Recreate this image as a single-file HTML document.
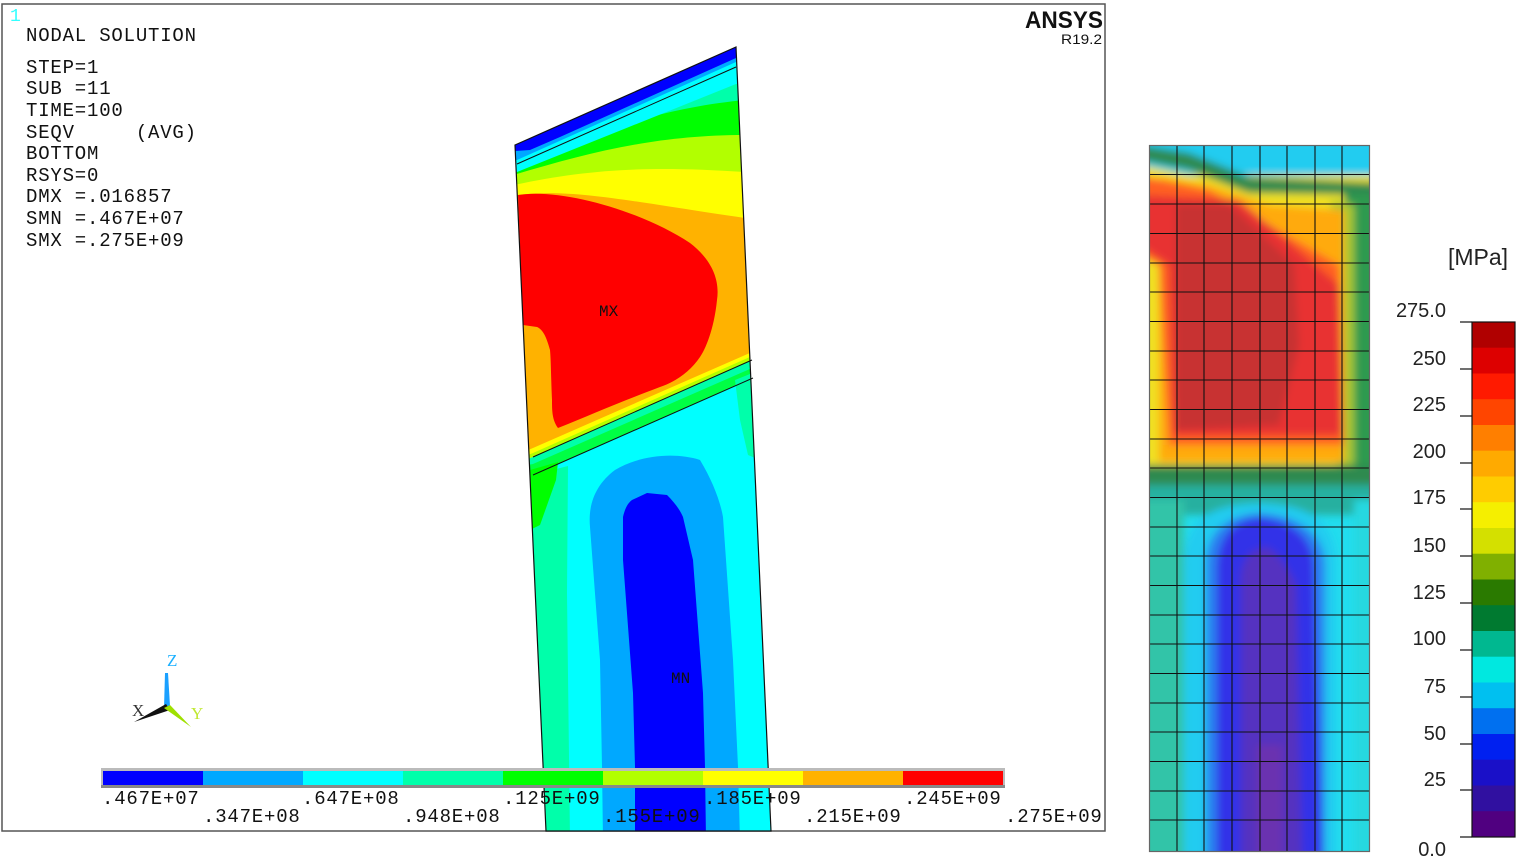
<!DOCTYPE html>
<html><head><meta charset="utf-8"><style>
html,body{margin:0;padding:0;background:#fff;}
svg{display:block}
.m{font-family:"Liberation Mono",monospace;font-size:19px;letter-spacing:0.8px;fill:#111;white-space:pre}
.a{font-family:"Liberation Sans",Arial,sans-serif;font-size:20px;fill:#222}
</style></head><body>
<svg width="1516" height="862" viewBox="0 0 1516 862" xmlns="http://www.w3.org/2000/svg">
<defs>
<clipPath id="plate"><polygon points="515,145 736,47 771,831 546,831"/></clipPath>
<clipPath id="rp"><rect x="1149" y="145" width="221" height="707"/></clipPath>
<filter id="bl" x="-10%" y="-10%" width="120%" height="120%"><feGaussianBlur stdDeviation="4"/></filter>
</defs>
<rect x="2" y="4" width="1103" height="827" fill="#fff" stroke="#555" stroke-width="1.5"/>

<g clip-path="url(#plate)">
<rect x="500" y="40" width="300" height="800" fill="#00ffff"/>
<polygon points="500,30 800,30 800,354 500,460" fill="#ffb200"/>
<path d="M500,0 L800,0 L800,219 L745,218 C620,200 560,185 500,198 Z" fill="#ffff00"/>
<path d="M500,0 L800,0 L800,172 L745,172 C640,165 580,170 500,188 Z" fill="#b2ff00"/>
<path d="M500,0 L800,0 L800,135 L745,135 C650,135 580,155 500,179 Z" fill="#00ff00"/>
<path d="M500,0 L800,0 L800,100 L745,100 C640,110 570,145 500,169 Z" fill="#00ffaa"/>
<path d="M500,0 L800,0 L800,84 L736,84 L517,172 L500,175 Z" fill="#00ffff"/>
<path d="M500,0 L800,0 L800,63 L736,62 L517,160 L500,162 Z" fill="#00a8ff"/>
<path d="M500,0 L800,0 L800,58 L736,58 L560,137 L530,150 L500,152 Z" fill="#0000ff"/>
<line x1="517" y1="164" x2="736" y2="67" stroke="#111" stroke-width="1"/>
<path d="M518,195 C560,188 640,210 690,243 C712,260 720,280 717,300 C714,330 705,350 700,357 C690,372 675,382 660,387 C620,402 590,415 558,428 C552,420 552,410 552,400 C551,380 551,360 550,350 C546,335 542,329 537,327 L523,325 Z" fill="#ff0000"/>
<polygon points="500,462 533,448 752,352 800,340 800,362 752,360 533,457 500,470" fill="#ffff00"/>
<polygon points="500,466 533,453 752,356 800,350 800,362 752,360 533,457 500,470" fill="#b2ff00"/>
<polygon points="500,470 533,457 752,360 800,350 800,380 753,378 533,475 500,490" fill="#00ffaa"/>
<polygon points="500,470 533,464 752,368 800,360 800,380 753,378 533,475 500,490" fill="#00ff00" opacity="0.6"/>
<path d="M500,470 L533,475 L568,466 L567,593 L570,840 L500,840 Z" fill="#00ffaa"/>
<path d="M530,470 L558,462 L556,480 L540,525 L530,530 Z" fill="#00ff00"/>
<path d="M735,380 L760,370 L760,460 L748,455 L740,420 Z" fill="#00ffaa"/>
<path d="M603,840 L602,767 L600,660 L590,527 C588,505 595,485 615,470 C640,455 675,452 700,460 C712,480 720,500 723,517 L733,660 L738,767 L740,840 Z" fill="#00a8ff"/>
<path d="M635,840 L635,767 L633,693 L623,560 L623,517 C625,508 628,503 632,500 L647,493 L667,495 C675,503 680,510 683,517 L693,560 L703,693 L705,767 L706,840 Z" fill="#0000ff"/>
</g>
<polygon points="515,145 736,47 771,831 546,831" fill="none" stroke="#111" stroke-width="1.2"/>
<line x1="533" y1="457" x2="752" y2="360" stroke="#111" stroke-width="1"/>
<line x1="533" y1="475" x2="753" y2="378" stroke="#111" stroke-width="1"/>
<text x="599" y="316" class="m" style="font-size:16px;letter-spacing:0">MX</text>
<text x="671" y="683" class="m" style="font-size:16px;letter-spacing:0">MN</text>

<rect x="101" y="768" width="904" height="20" fill="#bbb"/>
<rect x="103" y="771" width="100" height="14" fill="#0000ff"/>
<rect x="203" y="771" width="100" height="14" fill="#00a8ff"/>
<rect x="303" y="771" width="100" height="14" fill="#00ffff"/>
<rect x="403" y="771" width="100" height="14" fill="#00ffaa"/>
<rect x="503" y="771" width="100" height="14" fill="#00ff00"/>
<rect x="603" y="771" width="100" height="14" fill="#b2ff00"/>
<rect x="703" y="771" width="100" height="14" fill="#ffff00"/>
<rect x="803" y="771" width="100" height="14" fill="#ffb200"/>
<rect x="903" y="771" width="100" height="14" fill="#ff0000"/>
<rect x="101" y="785" width="904" height="3" fill="#888"/>
<g class="m">
<text x="102" y="804">.467E+07</text>
<text x="302" y="804">.647E+08</text>
<text x="503" y="804">.125E+09</text>
<text x="704" y="804">.185E+09</text>
<text x="904" y="804">.245E+09</text>
<text x="203" y="822">.347E+08</text>
<text x="403" y="822">.948E+08</text>
<text x="603" y="822">.155E+09</text>
<text x="804" y="822">.215E+09</text>
<text x="1005" y="822">.275E+09</text>
</g>

<text x="10" y="21" style="font-family:'Liberation Mono',monospace;font-size:18px;fill:#3ff">1</text>
<g class="m">
<text x="26" y="41">NODAL SOLUTION</text>
<text x="26" y="73">STEP=1</text>
<text x="26" y="94">SUB =11</text>
<text x="26" y="116">TIME=100</text>
<text x="26" y="138" xml:space="preserve">SEQV     (AVG)</text>
<text x="26" y="159">BOTTOM</text>
<text x="26" y="181">RSYS=0</text>
<text x="26" y="202">DMX =.016857</text>
<text x="26" y="224">SMN =.467E+07</text>
<text x="26" y="246">SMX =.275E+09</text>
</g>
<text x="1025" y="28" textLength="78" lengthAdjust="spacingAndGlyphs" style="font-family:'Liberation Sans',sans-serif;font-weight:bold;font-size:24px;fill:#111">ANSYS</text>
<text x="1061" y="44" textLength="41" lengthAdjust="spacingAndGlyphs" style="font-family:'Liberation Sans',sans-serif;font-size:14px;fill:#111">R19.2</text>

<polygon points="165,673 168,673 170,706 164,708" fill="#1aa0ff"/>
<polygon points="166,704 170,710 134,722" fill="#111"/>
<polygon points="164,708 170,705 191,727" fill="#9fe000"/>
<text x="167" y="666" style="font-family:'Liberation Serif',serif;font-size:17px;fill:#1ab0ff">Z</text>
<text x="132" y="716" style="font-family:'Liberation Serif',serif;font-size:17px;fill:#333">X</text>
<text x="191" y="719" style="font-family:'Liberation Serif',serif;font-size:17px;fill:#bfe830">Y</text>

<g clip-path="url(#rp)">
<rect x="1140" y="140" width="240" height="720" fill="#22ddee"/>
<g filter="url(#bl)" transform="translate(1149,145)">
<rect x="-10" y="-10" width="240" height="40" fill="#22ccf0"/>
<rect x="-10" y="30" width="240" height="300" fill="#f0e020"/>
<path d="M-10,20 L40,30 L100,55 L230,60 L230,330 L-10,330 Z" fill="#f0e020"/>
<path d="M195,45 L230,45 L230,330 L203,330 Z" fill="#2e9a50"/>
<path d="M182,55 L205,60 L205,320 L188,320 Z" fill="#a8c830"/>
<path d="M10,32 L60,40 L120,60 L195,65 L195,317 L10,317 Z" fill="#ffaa10"/>
<path d="M-10,30 L60,45 L190,120 L195,300 L20,300 L10,120 L-10,110 Z" fill="#ff6020"/>
<path d="M-10,50 L90,55 L190,140 L192,290 L25,290 L20,120 L-10,100 Z" fill="#e83030"/>
<path d="M27,59 L80,59 L145,120 L150,200 L130,280 L27,285 Z" fill="#c83030"/>
<path d="M-10,0 L40,8 L100,32 L230,38 L230,50 L100,48 L40,25 L-10,15 Z" fill="#2e8a50"/>
<rect x="-10" y="320" width="240" height="40" fill="#2e8a50"/>
<rect x="-10" y="340" width="240" height="30" fill="#28b0a0"/>
<rect x="-10" y="355" width="45" height="360" fill="#30c4a8"/>
<rect x="205" y="355" width="25" height="360" fill="#28d8e0"/>
<path d="M35,720 L35,420 C35,375 60,360 110,358 C160,360 187,375 187,420 L187,720 Z" fill="#22ccf0"/>
<path d="M57,720 L57,420 C57,385 80,370 110,368 C145,370 175,385 176,420 L176,720 Z" fill="#2a80f0"/>
<path d="M68,720 L68,420 C70,390 85,375 110,373 C140,375 163,390 165,420 L173,720 Z" fill="#3030e8"/>
<path d="M92,720 L92,430 C95,410 102,405 118,402 C132,410 140,425 147,440 L153,720 Z" fill="#5530c0"/>
<rect x="108" y="600" width="25" height="120" fill="#6a30b0"/>
</g>
<g stroke="#111" stroke-width="1.1">
<line x1="1177" y1="145" x2="1177" y2="852"/><line x1="1204" y1="145" x2="1204" y2="852"/>
<line x1="1232" y1="145" x2="1232" y2="852"/><line x1="1260" y1="145" x2="1260" y2="852"/>
<line x1="1287" y1="145" x2="1287" y2="852"/><line x1="1315" y1="145" x2="1315" y2="852"/>
<line x1="1342" y1="145" x2="1342" y2="852"/>
<line x1="1149" y1="174.5" x2="1370" y2="174.5"/><line x1="1149" y1="204" x2="1370" y2="204"/>
<line x1="1149" y1="233.5" x2="1370" y2="233.5"/><line x1="1149" y1="263" x2="1370" y2="263"/>
<line x1="1149" y1="292" x2="1370" y2="292"/><line x1="1149" y1="321.5" x2="1370" y2="321.5"/>
<line x1="1149" y1="351" x2="1370" y2="351"/><line x1="1149" y1="380" x2="1370" y2="380"/>
<line x1="1149" y1="409.5" x2="1370" y2="409.5"/><line x1="1149" y1="439" x2="1370" y2="439"/>
<line x1="1149" y1="468" x2="1370" y2="468"/><line x1="1149" y1="497.5" x2="1370" y2="497.5"/>
<line x1="1149" y1="527" x2="1370" y2="527"/><line x1="1149" y1="556" x2="1370" y2="556"/>
<line x1="1149" y1="585.5" x2="1370" y2="585.5"/><line x1="1149" y1="615" x2="1370" y2="615"/>
<line x1="1149" y1="644" x2="1370" y2="644"/><line x1="1149" y1="673.5" x2="1370" y2="673.5"/>
<line x1="1149" y1="703" x2="1370" y2="703"/><line x1="1149" y1="732" x2="1370" y2="732"/>
<line x1="1149" y1="761.5" x2="1370" y2="761.5"/><line x1="1149" y1="791" x2="1370" y2="791"/>
<line x1="1149" y1="820" x2="1370" y2="820"/>
</g>
</g>
<rect x="1149.5" y="145.5" width="220" height="706" fill="none" stroke="#666" stroke-width="1.2"/>

<g>
<rect x="1472" y="322" width="43" height="26" fill="#b00000"/>
<rect x="1472" y="347.7" width="43" height="26" fill="#dd0000"/>
<rect x="1472" y="373.5" width="43" height="26" fill="#ff1a00"/>
<rect x="1472" y="399.2" width="43" height="26" fill="#ff4500"/>
<rect x="1472" y="425" width="43" height="26" fill="#ff7f00"/>
<rect x="1472" y="450.7" width="43" height="26" fill="#ffaa00"/>
<rect x="1472" y="476.5" width="43" height="26" fill="#ffcc00"/>
<rect x="1472" y="502.2" width="43" height="26" fill="#f5ef00"/>
<rect x="1472" y="528" width="43" height="26" fill="#d4e000"/>
<rect x="1472" y="553.7" width="43" height="26" fill="#80b000"/>
<rect x="1472" y="579.5" width="43" height="26" fill="#2a7a00"/>
<rect x="1472" y="605.2" width="43" height="26" fill="#007a30"/>
<rect x="1472" y="631" width="43" height="26" fill="#00b890"/>
<rect x="1472" y="656.7" width="43" height="26" fill="#00e8e0"/>
<rect x="1472" y="682.5" width="43" height="26" fill="#00c0f0"/>
<rect x="1472" y="708.2" width="43" height="26" fill="#0070f0"/>
<rect x="1472" y="734" width="43" height="26" fill="#0020f0"/>
<rect x="1472" y="759.7" width="43" height="26" fill="#1a10c8"/>
<rect x="1472" y="785.5" width="43" height="26" fill="#3010a0"/>
<rect x="1472" y="811.2" width="43" height="25.8" fill="#500080"/>
<rect x="1472" y="322" width="43" height="515" fill="none" stroke="#111" stroke-width="1.2"/>
<g stroke="#111" stroke-width="1.2">
<line x1="1460" y1="322" x2="1472" y2="322"/><line x1="1460" y1="369" x2="1472" y2="369"/>
<line x1="1460" y1="416" x2="1472" y2="416"/><line x1="1460" y1="463" x2="1472" y2="463"/>
<line x1="1460" y1="509" x2="1472" y2="509"/><line x1="1460" y1="556" x2="1472" y2="556"/>
<line x1="1460" y1="603" x2="1472" y2="603"/><line x1="1460" y1="650" x2="1472" y2="650"/>
<line x1="1460" y1="697" x2="1472" y2="697"/><line x1="1460" y1="744" x2="1472" y2="744"/>
<line x1="1460" y1="790" x2="1472" y2="790"/><line x1="1460" y1="837" x2="1472" y2="837"/>
</g>
<g class="a" text-anchor="end">
<text x="1446" y="317">275.0</text>
<text x="1446" y="365">250</text>
<text x="1446" y="411">225</text>
<text x="1446" y="458">200</text>
<text x="1446" y="504">175</text>
<text x="1446" y="552">150</text>
<text x="1446" y="599">125</text>
<text x="1446" y="645">100</text>
<text x="1446" y="693">75</text>
<text x="1446" y="740">50</text>
<text x="1446" y="786">25</text>
<text x="1446" y="856">0.0</text>
</g>
<text x="1448" y="265" class="a" style="font-size:23px">[MPa]</text>
</g>
</svg>
</body></html>
